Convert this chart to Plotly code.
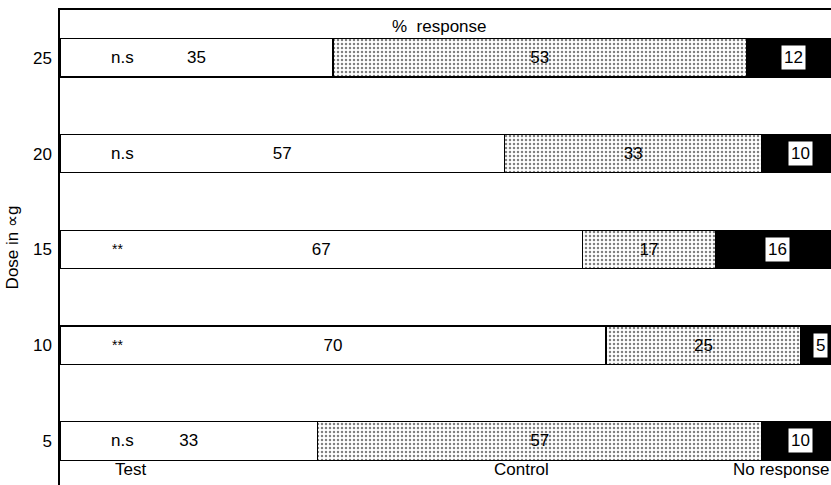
import plotly.graph_objects as go

# Dose levels (µg) and percentage responses per dose
doses = ["5", "10", "15", "20", "25"]
test_pct = [33, 70, 67, 57, 35]
control_pct = [57, 25, 17, 33, 53]
no_response_pct = [10, 5, 16, 10, 12]
significance = ["n.s", "**", "**", "n.s", "n.s"]

FONT = "Arial, Liberation Sans, sans-serif"
FS = 17
ypos = list(range(len(doses)))

fig = go.Figure()

fig.add_trace(go.Bar(
    y=ypos, x=test_pct, orientation="h", name="Test",
    marker=dict(color="white", line=dict(color="black", width=1.2)),
    text=[str(v) for v in test_pct], textposition="inside",
    insidetextanchor="middle",
    textfont=dict(family=FONT, size=FS, color="black"),
    width=0.4,
))
fig.add_trace(go.Bar(
    y=ypos, x=control_pct, orientation="h", name="Control",
    marker=dict(color="white", line=dict(color="black", width=1.2),
                pattern=dict(shape=".", fgcolor="black", bgcolor="white",
                             size=4, solidity=0.3, fillmode="overlay")),
    text=[str(v) for v in control_pct], textposition="inside",
    insidetextanchor="middle",
    textfont=dict(family=FONT, size=FS, color="black"),
    width=0.4,
))
fig.add_trace(go.Bar(
    y=ypos, x=no_response_pct, orientation="h", name="No response",
    marker=dict(color="black", line=dict(color="black", width=1.2)),
    width=0.4,
))

annotations = []
for i, (t, c, n, s) in enumerate(zip(test_pct, control_pct, no_response_pct, significance)):
    # significance marker near the start of the test bar
    annotations.append(dict(x=8.0 if s == "n.s" else 7.4, y=i, text=s, showarrow=False,
                            xref="x", yref="y",
                            font=dict(family=FONT, size=FS if s == "n.s" else 14, color="black")))
    # no-response value in a white box centred on its bar
    annotations.append(dict(x=t + c + n / 2, y=i, text=str(n), showarrow=False,
                            xref="x", yref="y", bgcolor="white", borderpad=2,
                            font=dict(family=FONT, size=FS, color="black")))

annotations += [
    dict(x=48.7, y=4.33, text="%  response", showarrow=False, xref="x", yref="y",
         font=dict(family=FONT, size=FS, color="black")),
    dict(x=9.0, y=-0.30, text="Test", showarrow=False, xref="x", yref="y",
         font=dict(family=FONT, size=FS, color="black")),
    dict(x=59.2, y=-0.30, text="Control", showarrow=False, xref="x", yref="y",
         font=dict(family=FONT, size=FS, color="black")),
    dict(x=1.0, y=-0.30, text="No response", showarrow=False, xref="paper", yref="y",
         xanchor="right", font=dict(family=FONT, size=FS, color="black")),
]

fig.update_layout(
    width=831, height=485,
    margin=dict(l=60, r=0, t=10, b=0),
    barmode="stack",
    showlegend=False,
    plot_bgcolor="white", paper_bgcolor="white",
    font=dict(family=FONT, size=FS, color="black"),
    annotations=annotations,
    xaxis=dict(range=[0, 98.85], side="top", showline=True, linecolor="black",
               linewidth=1.5, showticklabels=False, ticks="", showgrid=False,
               zeroline=False),
    yaxis=dict(range=[-0.46, 4.5], tickmode="array", tickvals=ypos, ticktext=doses,
               showline=True, linecolor="black", linewidth=1.5,
               ticks="outside", ticklen=3, tickcolor="white",
               showgrid=False, zeroline=False,
               tickfont=dict(family=FONT, size=FS, color="black"),
               title=dict(text="Dose in ∝g", standoff=10,
                          font=dict(family=FONT, size=FS, color="black"))),
)

fig.write_html("out.html")
